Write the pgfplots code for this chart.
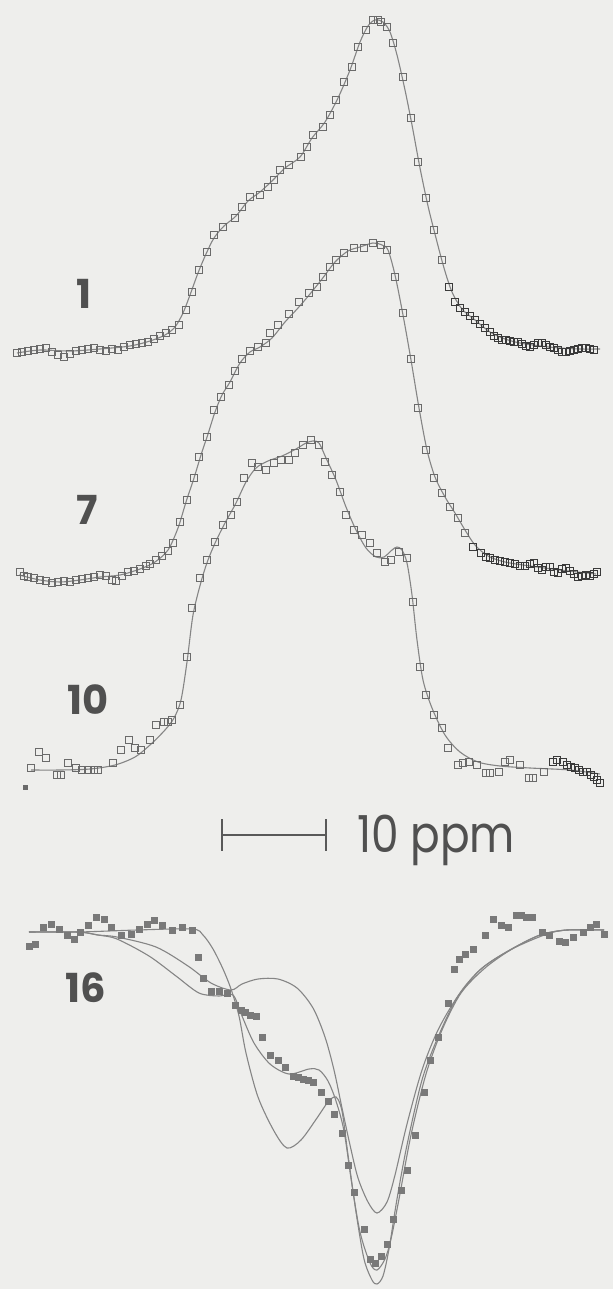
\documentclass[border=0pt]{standalone}
\usepackage{pgfplots}
\pgfplotsset{compat=1.18}
\usepackage{fontspec}
\setmainfont{Poppins}
\definecolor{paper}{HTML}{EEEEEC}
\definecolor{fitline}{HTML}{858585}
\definecolor{pts}{HTML}{6A6A6A}
\definecolor{ptsdark}{HTML}{3A3A3A}
\definecolor{lab}{HTML}{505050}
\tikzset{num/.style={text=lab, font=\fontsize{40}{40}\selectfont\bfseries}}

\begin{document}
\begin{tikzpicture}
\begin{axis}[
    width=613pt, height=1289pt, scale only axis,
    xmin=0, xmax=613, ymin=0, ymax=1289, y dir=reverse,
    axis line style={draw=none}, ticks=none,
    axis background/.style={fill=paper},
    clip=false,
    fit/.style={fitline, line width=1.1pt, smooth, no marks},
    data/.style={only marks, mark=square, mark size=3.6pt,
        mark options={draw=pts, line width=1.3pt, fill=none}},
    datadark/.style={only marks, mark=square, mark size=3.6pt,
        mark options={draw=ptsdark, line width=1.4pt, fill=none}},
]
% ---- spectrum 1 ----
\addplot[fit] coordinates {(17,353) (40,350) (70,351) (100,349) (130,346) (150,341) (165,335) (175,327) (183,313) (190,295) (198,273) (206,254) (214,238) (224,226) (236,216) (248,201) (260,192) (272,181) (285,168) (300,157) (312,138) (325,122) (338,98) (350,70) (360,42) (368,26) (375,20) (383,22) (390,32) (397,55) (405,90) (412,125) (420,168) (428,206) (436,238) (444,268) (452,292) (462,309) (475,320) (490,332) (505,339) (520,343) (540,346) (560,348) (580,349) (600,349)};
\addplot[data] coordinates {(17,353) (22,352) (28,351) (34,350) (40,349) (46,348) (52,352) (58,355) (64,357) (70,354) (76,351) (82,350) (88,349) (94,348) (100,350) (106,351) (112,349) (118,350) (124,347) (130,345) (136,344) (142,343) (148,342) (154,339) (160,336) (166,333) (172,330) (179,325)
 (186,310) (192,292) (199,270) (207,252) (214,235) (223,227) (235,218) (242,207) (250,197) (260,195) (268,187) (274,180) (280,170) (289,165) (301,157) (307,147) (313,135) (323,127) (330,115) (336,100) (344,82) (352,67) (358,47) (366,30) (373,20) (378,20) (381,22) (387,27) (393,43) (403,77) (411,118) (418,162) (426,198) (434,230) (442,260)};
\addplot[datadark] coordinates {(449,287) (455,302) (460,308) (465,312) (470,316) (475,320) (480,324) (485,328) (490,332) (494,336) (498,338) (502,340) (506,340) (510,341) (514,342) (518,342) (522,344) (526,346) (530,347) (534,345) (538,343) (542,343) (546,345) (550,347) (554,348) (558,350) (562,352) (566,352) (570,351) (574,350) (578,349) (582,348) (586,348) (590,349) (594,350)};
% ---- spectrum 7 ----
\addplot[fit] coordinates {(19,575) (40,580) (60,582) (80,580) (100,577) (120,575) (140,569) (155,562) (168,550) (178,528) (186,502) (194,478) (201,455) (208,434) (215,412) (222,395) (230,382) (240,363) (250,352) (260,347) (272,338) (285,322) (298,308) (310,294) (322,279) (335,262) (348,251) (360,247) (373,243) (382,245) (388,250) (395,275) (403,315) (411,360) (419,408) (427,450) (435,477) (445,497) (455,513) (465,530) (475,545) (488,556) (505,562) (530,566) (560,570) (596,574)};
\addplot[data] coordinates {(20,572) (24,576) (28,577) (34,578) (40,580) (46,581) (52,583) (58,582) (64,581) (70,582) (76,580) (82,579) (88,578) (94,577) (100,575) (106,576) (112,580) (116,581) (122,576) (128,572) (134,571) (140,569) (146,566) (150,564) (156,560) (162,556) (168,551) (173,543)
 (180,522) (187,500) (194,478) (199,457) (207,437) (214,410) (221,397) (229,385) (235,371) (242,359) (250,351) (258,347) (266,343) (270,333) (278,325) (289,314) (299,302) (309,293) (317,287) (323,277) (330,267) (336,260) (344,253) (354,248) (364,248) (373,243) (381,245) (387,250) (395,277) (403,313) (411,359) (418,408) (426,450) (434,478) (442,493) (450,507) (458,518) (465,533)};
\addplot[datadark] coordinates {(473,547) (481,553) (486,557) (490,558) (495,560) (500,561) (505,562) (510,563) (515,564) (520,566) (525,566) (530,564) (534,563) (538,568) (542,570) (546,567) (550,567) (554,572) (558,573) (562,569) (566,568) (570,571) (574,574) (578,577) (582,576) (586,575) (590,576) (594,574) (597,572)};
% ---- spectrum 10 ----
\addplot[fit] coordinates {(31,770) (60,770) (90,769) (115,765) (135,757) (150,745) (165,730) (174,718) (181,700) (187,662) (193,615) (201,582) (208,560) (216,541) (225,523) (236,503) (246,482) (256,468) (268,461) (282,456) (296,449) (306,443) (313,441) (319,443) (326,458) (336,480) (346,507) (356,530) (366,548) (376,557) (384,557) (392,550) (397,547) (402,550) (407,563) (412,595) (417,640) (423,680) (432,708) (445,735) (460,752) (478,762) (500,766) (530,768) (570,770) (600,774)};
\addplot[data] coordinates {(31,768) (39,752) (46,758) (57,775) (61,775) (68,763) (76,768) (82,770) (88,770) (94,770) (98,770) (113,763) (121,750) (129,740) (135,748) (141,750) (150,740) (156,725) (164,722) (168,722) (172,720) (180,705) (187,657) (192,608) (200,578) (207,560) (215,542) (223,525) (231,515) (237,502) (244,478) (252,463) (258,467) (266,470) (274,463) (281,460) (289,460) (295,453) (303,445) (311,440) (319,445) (325,462) (332,475) (340,492) (346,515) (354,530) (362,535) (370,543) (377,553) (385,562) (391,560) (399,552) (407,558) (413,602) (420,667) (426,695) (434,715) (442,728) (448,748) (458,765) (463,763) (469,762) (477,765) (486,773) (490,773) (499,772) (505,762) (510,760) (520,765) (529,778) (533,778) (544,772)};
\addplot[datadark] coordinates {(553,762) (557,760) (563,762) (567,765) (571,767) (575,768) (579,770) (583,772) (587,772) (591,775) (594,777) (597,780) (600,783)};
\addplot[only marks, mark=square*, mark size=2pt, mark options={draw=pts, fill=pts}] coordinates {(25,787)};
% ---- scale bar ----
\addplot[black!65, line width=1.2pt, no marks] coordinates {(222,835) (326,835)};
\addplot[black!65, line width=1.2pt, no marks] coordinates {(222,819) (222,851)};
\addplot[black!65, line width=1.2pt, no marks] coordinates {(326,819) (326,851)};
\node[anchor=base west, text=lab, inner sep=0pt] at (axis cs:357,852) {\scalebox{0.86}[1]{\fontsize{51}{51}\selectfont 10 ppm}};
% ---- spectrum 16 ----
\addplot[fit] coordinates {(29,932) (78,932) (137,930) (192,929) (203,935) (213,949) (223,969) (231,989) (239,1016) (246,1053) (258,1097) (274,1131) (287,1148) (301,1140) (317,1118) (328,1102) (336,1097) (342,1111) (348,1155) (356,1212) (364,1259) (372,1280) (377,1284) (383,1276) (389,1249) (397,1199) (407,1145) (422,1080) (438,1037) (458,996) (481,969) (512,949) (547,934) (567,930) (604,930)};
\addplot[fit] coordinates {(29,932) (78,932) (98,935) (117,937) (156,947) (188,966) (211,983) (231,990) (242,984) (258,979) (278,979) (297,988) (313,1008) (325,1037) (334,1070) (342,1108) (350,1145) (358,1178) (368,1202) (377,1213) (387,1202) (395,1175) (407,1124) (422,1070) (438,1030) (458,996) (481,969) (508,951) (540,935) (567,930) (604,930)};
\addplot[fit] coordinates {(29,932) (78,932) (98,935) (117,939) (149,956) (176,976) (199,993) (219,996) (233,995) (242,1016) (254,1043) (270,1064) (289,1074) (309,1069) (319,1070) (328,1081) (336,1101) (344,1131) (352,1185) (360,1232) (370,1263) (377,1270) (385,1259) (391,1239) (399,1199) (411,1135) (426,1074) (442,1030) (461,993) (485,968) (512,949) (540,935) (567,930) (604,930)};
\addplot[only marks, mark=square*, mark size=3pt, mark options={draw=pts!90, fill=pts!90}] coordinates {(29,946) (35,944) (43,927) (51,924) (59,929) (67,935) (74,939) (80,932) (88,925) (96,917) (104,919) (111,927) (121,935) (131,934) (139,929) (147,924) (154,920) (162,925) (172,930) (182,927) (192,930) (198,957) (203,978) (211,991) (219,991) (227,993) (235,1005) (241,1010) (245,1012) (250,1015) (256,1016) (262,1037) (270,1055) (278,1060) (285,1067) (293,1076) (298,1077) (303,1079) (308,1080) (313,1082) (321,1092) (328,1101) (334,1114) (342,1133) (348,1165) (354,1192) (364,1229) (370,1259) (375,1263) (381,1256) (387,1244) (393,1219) (401,1190) (407,1170) (415,1135) (424,1092) (430,1060) (438,1037) (448,1003) (454,969) (459,959) (465,954) (473,949) (485,935) (493,919) (501,925) (508,927) (516,915) (521,915) (526,917) (532,917) (542,932) (549,935) (559,941) (565,942) (573,937) (583,932) (590,927) (596,924) (604,934)};
% ---- labels ----
\node[num] at (axis cs:84,294) {1};
\node[num] at (axis cs:87,510) {7};
\node[num] at (axis cs:88,700) {10};
\node[num] at (axis cs:86,988) {16};
\end{axis}
\end{tikzpicture}
\end{document}
